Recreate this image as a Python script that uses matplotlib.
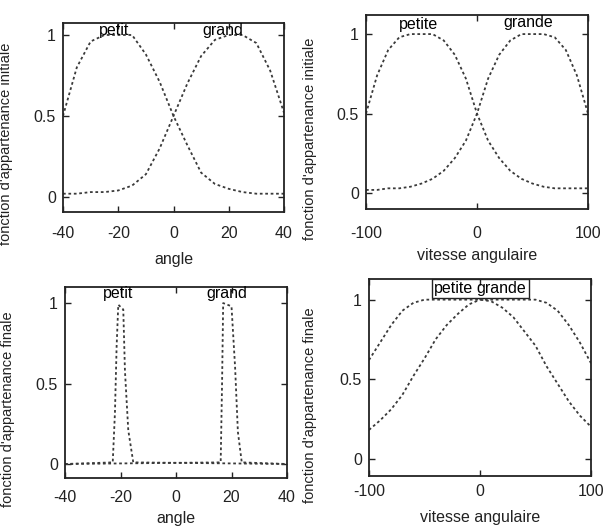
import matplotlib
matplotlib.use("Agg")
import matplotlib.pyplot as plt
from matplotlib.patches import Rectangle

plt.rcParams['font.family'] = ['Liberation Sans', 'DejaVu Sans']

# ---- data: initial membership, angle ----
angle_x = [-40, -35, -30, -25, -20, -15, -10, -5, 0, 5, 10, 15, 20, 25, 30, 35, 40]
petit_init = [0.5, 0.8, 0.96, 1.0, 1.0, 1.0, 0.88, 0.71, 0.5, 0.32, 0.15, 0.08, 0.05, 0.03, 0.02, 0.02, 0.02]
grand_init = [0.02, 0.02, 0.03, 0.03, 0.04, 0.07, 0.14, 0.3, 0.5, 0.7, 0.87, 0.97, 1.0, 1.0, 0.95, 0.78, 0.52]

# ---- data: initial membership, angular speed ----
vit_x = [-100, -90, -80, -70, -60, -50, -40, -30, -20, -10, 0, 10, 20, 30, 40, 50, 60, 70, 80, 90, 100]
petite_init = [0.5, 0.74, 0.9, 0.98, 1.0, 1.0, 1.0, 0.96, 0.87, 0.72, 0.5, 0.33, 0.22, 0.14, 0.09, 0.06, 0.04, 0.03, 0.03, 0.03, 0.03]
grande_init = [0.02, 0.02, 0.03, 0.03, 0.04, 0.06, 0.09, 0.14, 0.22, 0.33, 0.5, 0.72, 0.87, 0.96, 1.0, 1.0, 1.0, 0.98, 0.9, 0.74, 0.5]

# ---- data: final membership, angle (narrow peaks) ----
petit_fin_x = [-40, -22.8, -22.0, -21.4, -20.8, -19.0, -18.4, -17.2, -15.4, 40]
petit_fin_y = [0.0, 0.01, 0.32, 0.73, 0.99, 0.96, 0.58, 0.21, 0.01, 0.0]
grand_fin_x = [-40, 16.1, 16.6, 17.0, 20.0, 21.3, 22.3, 23.7, 40]
grand_fin_y = [0.0, 0.01, 0.5, 1.0, 0.98, 0.6, 0.2, 0.01, 0.0]

# ---- data: final membership, angular speed ----
petite_fin = [0.62, 0.73, 0.84, 0.93, 0.98, 1.0, 1.0, 1.0, 1.0, 1.0, 1.0, 0.99, 0.95, 0.89, 0.8, 0.71, 0.58, 0.47, 0.36, 0.27, 0.2]
grande_fin = [0.18, 0.24, 0.31, 0.4, 0.52, 0.63, 0.75, 0.84, 0.91, 0.97, 1.0, 1.0, 1.0, 1.0, 1.0, 1.0, 0.98, 0.93, 0.84, 0.73, 0.6]

angle_ticks = [-40, -20, 0, 20, 40]
vit_ticks = [-100, 0, 100]
y_ticks = [0, 0.5, 1]
y_ticklabels = ['0', '0.5', '1']

fig = plt.figure(figsize=(6.08, 5.31), dpi=100)
W, H = 608, 531

def make_ax(l, r, t, b):
    return fig.add_axes([l / W, (H - b) / H, (r - l) / W, (b - t) / H])

ax_tl = make_ax(63, 284, 23, 212)
ax_tr = make_ax(366, 588, 15, 209)
ax_bl = make_ax(65, 287, 287, 478)
ax_br = make_ax(369, 591, 279, 476)

line_kw = dict(color='#3a3a3a', lw=1.3, linestyle=(0, (1.5, 1.5)))
fs = 11.5
ink = '#222222'

def style(ax, xlim, xticks, ylim, xlabel, ylabel, xpad, xlabpad, ylab_x):
    ax.set_xlim(*xlim)
    ax.set_ylim(*ylim)
    ax.set_xticks(xticks)
    ax.set_xticklabels([str(v) for v in xticks])
    ax.set_yticks(y_ticks)
    ax.set_yticklabels(y_ticklabels)
    ax.tick_params(direction='in', top=True, right=True, length=4, width=1,
                   labelsize=fs, colors=ink)
    ax.tick_params(axis='x', pad=xpad)
    ax.tick_params(axis='y', pad=5)
    for s in ax.spines.values():
        s.set_linewidth(1.3)
        s.set_color(ink)
    ax.set_xlabel(xlabel, fontsize=fs, labelpad=xlabpad, color=ink)
    ax.set_ylabel(ylabel, fontsize=10.5, color=ink)
    ax.yaxis.set_label_coords(ylab_x, 0.36)

# top-left
ax_tl.plot(angle_x, petit_init, **line_kw)
ax_tl.plot(angle_x, grand_init, **line_kw)
style(ax_tl, (-40, 40), angle_ticks, (-0.093, 1.074), 'angle',
      "fonction d'appartenance initiale", 10, 8, -0.226)
ax_tl.text(-21.5, 1.03, 'petit', ha='center', va='center', fontsize=fs)
ax_tl.text(18, 1.03, 'grand', ha='center', va='center', fontsize=fs)

# top-right
ax_tr.plot(vit_x, petite_init, **line_kw)
ax_tr.plot(vit_x, grande_init, **line_kw)
style(ax_tr, (-100, 100), vit_ticks, (-0.1, 1.12), 'vitesse angulaire',
      "fonction d'appartenance initiale", 12, 5, -0.22)
ax_tr.text(-53, 1.06, 'petite', ha='center', va='center', fontsize=fs)
ax_tr.text(46, 1.07, 'grande', ha='center', va='center', fontsize=fs)

# bottom-left
ax_bl.plot(petit_fin_x, petit_fin_y, **line_kw)
ax_bl.plot(grand_fin_x, grand_fin_y, **line_kw)
style(ax_bl, (-40, 40), angle_ticks, (-0.087, 1.1), 'angle',
      "fonction d'appartenance finale", 9, 4, -0.225)
ax_bl.text(-21, 1.06, 'petit', ha='center', va='center', fontsize=fs)
ax_bl.text(18.3, 1.06, 'grand', ha='center', va='center', fontsize=fs)

# bottom-right
ax_br.plot(vit_x, petite_fin, **line_kw)
ax_br.plot(vit_x, grande_fin, **line_kw)
style(ax_br, (-100, 100), vit_ticks, (-0.11, 1.13), 'vitesse angulaire',
      "fonction d'appartenance finale", 6, 8, -0.234)
ax_br.add_patch(Rectangle((0.284, 0.904), 0.437, 0.096, transform=ax_br.transAxes,
                          fill=False, lw=1.0, ec=ink))
ax_br.text(-23.4, 1.07, 'petite', ha='center', va='center', fontsize=fs)
ax_br.text(19.4, 1.07, 'grande', ha='center', va='center', fontsize=fs)

fig.savefig('out.png', dpi=100, facecolor='white')
